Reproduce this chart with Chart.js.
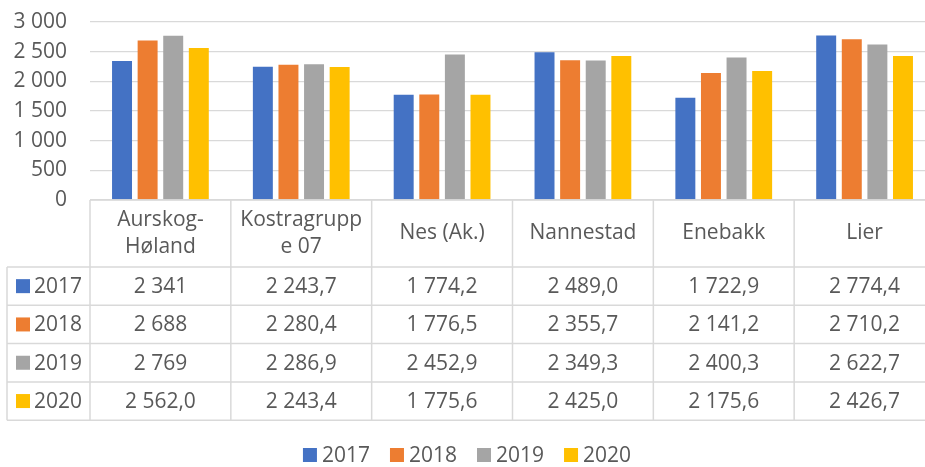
<!DOCTYPE html>
<html>
<head>
<meta charset="utf-8">
<script src="https://cdn.jsdelivr.net/npm/chart.js@4"></script>
<style>
html,body{margin:0;padding:0;background:#fff;overflow:hidden;}
#wrap{position:absolute;left:0;top:0;width:937px;height:467px;}
</style>
</head>
<body>
<div id="wrap"><canvas id="chart"></canvas></div>
<script>
const categories = [["Aurskog-","Høland"],["Kostragrupp","e 07"],"Nes (Ak.)","Nannestad","Enebakk","Lier"]
const years = ["2017","2018","2019","2020"]
const colors = ["#4472C4","#ED7D31","#A5A5A5","#FFC000"]

const v2017 = [2341, 2243.7, 1774.2, 2489.0, 1722.9, 2774.4]
const v2018 = [2688, 2280.4, 1776.5, 2355.7, 2141.2, 2710.2]
const v2019 = [2769, 2286.9, 2452.9, 2349.3, 2400.3, 2622.7]
const v2020 = [2562.0, 2243.4, 1775.6, 2425.0, 2175.6, 2426.7]

// decimals shown in the data table
const d2017 = [0,1,1,1,1,1]
const d2018 = [0,1,1,1,1,1]
const d2019 = [0,1,1,1,1,1]
const d2020 = [1,1,1,1,1,1]

const yTicks = [0,500,1000,1500,2000,2500,3000]

const series = [v2017,v2018,v2019,v2020]
const decimals = [d2017,d2018,d2019,d2020]

const textColor = "#595959"
const lineColor = "#d9d9d9"
const fontFamily = "'Open Sans', sans-serif"
const fontSize = 21

function fmt(v,dec){
let s = v.toFixed(dec)
let parts = s.split(".")
let int = parts[0].replace(/\B(?=(\d{3})+(?!\d))/g," ")
return parts.length>1 ? int+","+parts[1] : int
}

// table under the plot + legend, drawn from the x scale
const tablePlugin = {
id:"dataTable",
afterDraw(chart){
const ctx = chart.ctx
const x = chart.scales.x
const top = chart.chartArea.bottom
const headerBottom = top+67
const rowH = 38.3
const bottom = headerBottom+rowH*series.length
const half = (x.getPixelForValue(1)-x.getPixelForValue(0))/2
const left = x.getPixelForValue(0)-half
const right = x.getPixelForValue(categories.length-1)+half
const legendLeft = 7

ctx.save()
ctx.strokeStyle = lineColor
ctx.lineWidth = 1.5

ctx.beginPath()
ctx.moveTo(left,top)
ctx.lineTo(right,top)
for(let i=0;i<=series.length;i++){
let y = headerBottom+rowH*i
ctx.moveTo(legendLeft,y)
ctx.lineTo(right,y)
}
for(let i=0;i<=categories.length;i++){
let xx = left+half*2*i
ctx.moveTo(xx,top)
ctx.lineTo(xx,bottom)
}
ctx.moveTo(legendLeft,headerBottom)
ctx.lineTo(legendLeft,bottom)
ctx.stroke()

ctx.fillStyle = textColor
ctx.font = fontSize+"px "+fontFamily
ctx.textAlign = "center"
ctx.textBaseline = "middle"

categories.forEach((c,i)=>{
let cx = x.getPixelForValue(i)
let lines = Array.isArray(c) ? c : [c]
let mid = (top+headerBottom)/2
lines.forEach((l,j)=>{
ctx.fillText(l,cx,mid+(j-(lines.length-1)/2)*26.7)
})
})

series.forEach((s,r)=>{
let cy = headerBottom+rowH*r+rowH/2
ctx.fillStyle = colors[r]
ctx.fillRect(16,cy-7,14,14)
ctx.fillStyle = textColor
ctx.textAlign = "left"
ctx.fillText(years[r],34,cy+1)
ctx.textAlign = "center"
s.forEach((v,i)=>{
ctx.fillText(fmt(v,decimals[r][i]),x.getPixelForValue(i),cy+1)
})
})

// legend
ctx.textAlign = "left"
let widths = years.map(t=>14+5+ctx.measureText(t).width)
let gap = 20
let total = widths.reduce((a,b)=>a+b,0)+gap*(years.length-1)
let lx = 467-total/2
let ly = 455
years.forEach((t,i)=>{
ctx.fillStyle = colors[i]
ctx.fillRect(lx,ly-7,14,14)
ctx.fillStyle = textColor
ctx.fillText(t,lx+19,ly+1)
lx += widths[i]+gap
})

ctx.restore()
}
}

const ctx = document.getElementById("chart")

new Chart(ctx,{
type:"bar",
data:{
labels:categories,
datasets:series.map((s,i)=>({
label:years[i],
data:s,
backgroundColor:colors[i],
categoryPercentage:0.727,
barPercentage:0.78
}))
},
options:{
responsive:true,
maintainAspectRatio:false,
animation:false,
layout:{padding:{left:0,right:2,top:22,bottom:0}},
plugins:{
legend:{display:false},
tooltip:{enabled:false}
},
scales:{
x:{
grid:{display:false},
border:{display:false},
ticks:{display:false},
afterFit(s){
s.height = 467-200
}
},
y:{
min:0,
max:3000,
afterBuildTicks(s){
s.ticks = yTicks.map(v=>({value:v}))
},
afterFit(s){
s.width = 90
s.paddingTop = 0
s.paddingBottom = 0
},
grid:{color:lineColor,lineWidth:1.3,drawTicks:false},
border:{display:false},
ticks:{
color:textColor,
font:{family:fontFamily,size:fontSize},
padding:23,
autoSkip:false,
callback:v=>fmt(v,0)
}
}
}
},
plugins:[tablePlugin]
})
</script>
</body>
</html>
